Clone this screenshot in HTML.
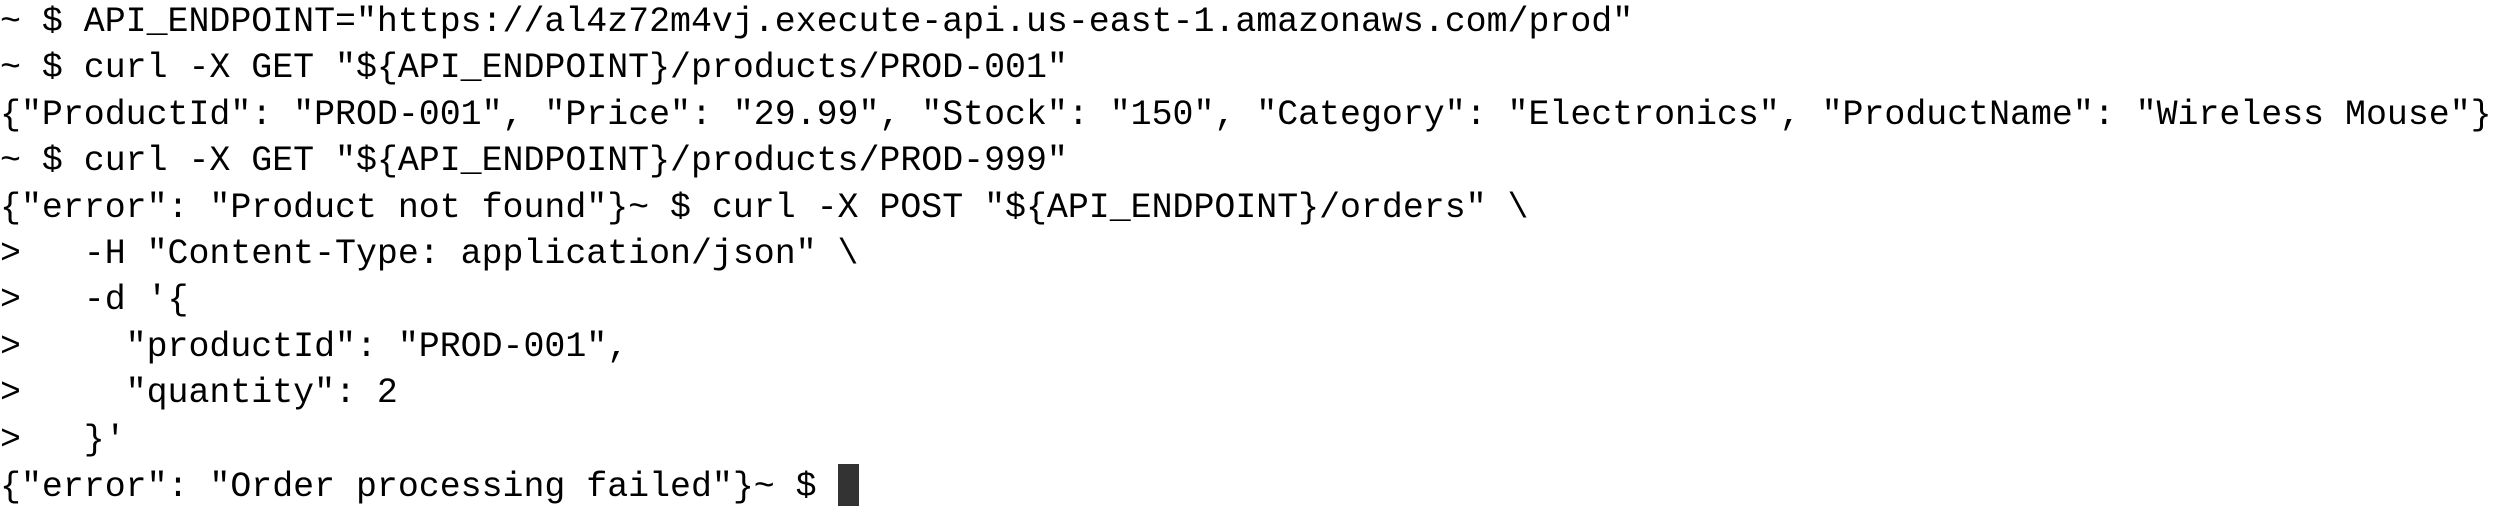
<!DOCTYPE html>
<html><head><meta charset="utf-8"><style>
html,body{margin:0;padding:0;background:#fff;width:2500px;height:512px;overflow:hidden}
pre{margin:0;padding:0 0 0 0;font-family:"Liberation Mono",monospace;font-size:34.9px;line-height:46.4px;color:#000;white-space:pre}
.c{display:inline-block;width:21px;height:42px;background:#333;vertical-align:-10px}
</style></head><body><pre>~ $ API_ENDPOINT="https://al4z72m4vj.execute-api.us-east-1.amazonaws.com/prod"
~ $ curl -X GET "${API_ENDPOINT}/products/PROD-001"
{"ProductId": "PROD-001", "Price": "29.99", "Stock": "150", "Category": "Electronics", "ProductName": "Wireless Mouse"}
~ $ curl -X GET "${API_ENDPOINT}/products/PROD-999"
{"error": "Product not found"}~ $ curl -X POST "${API_ENDPOINT}/orders" \
&gt;   -H "Content-Type: application/json" \
&gt;   -d '{
&gt;     "productId": "PROD-001",
&gt;     "quantity": 2
&gt;   }'
{"error": "Order processing failed"}~ $ <span class="c"></span></pre></body></html>
